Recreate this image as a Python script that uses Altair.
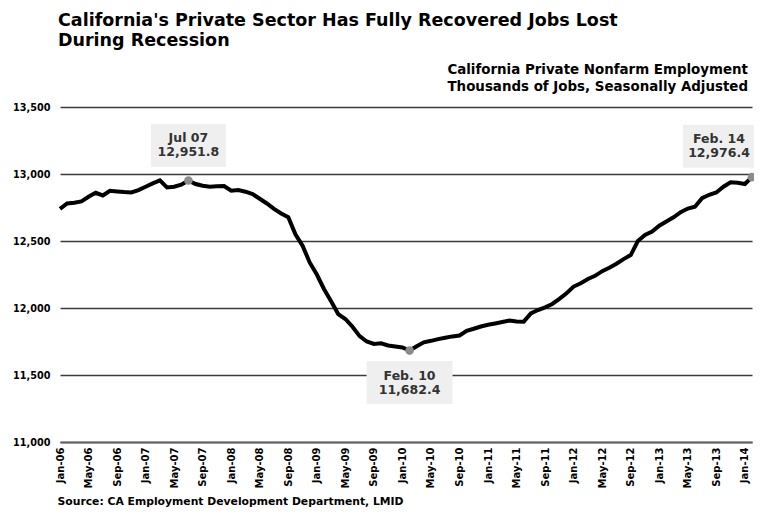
import altair as alt
import pandas as pd

# ---- data -------------------------------------------------------------
start_month = "2006-01-01"
n_months = 98  # Jan-06 .. Feb-14
jobs = [
    12740, 12780, 12785, 12795, 12830, 12860, 12840, 12875, 12870, 12865, 12862, 12880,
    12905, 12930, 12952, 12900, 12905, 12920, 12951.8, 12925, 12912, 12905, 12908, 12910,
    12875, 12880, 12868, 12850, 12815, 12780, 12740, 12705, 12677, 12550, 12465, 12340,
    12250, 12142, 12050, 11955, 11918, 11860, 11790, 11750, 11732, 11737, 11720, 11712,
    11705, 11682.4, 11715, 11744, 11755, 11768, 11778, 11788, 11795, 11830, 11845, 11862,
    11875, 11885, 11895, 11906, 11900, 11898, 11960, 11985, 12005, 12030, 12068, 12110,
    12160, 12185, 12217, 12240, 12275, 12300, 12330, 12365, 12395, 12500, 12545, 12570,
    12614, 12645, 12677, 12715, 12742, 12756, 12820, 12845, 12862, 12905, 12938, 12935,
    12925, 12976.4,
]
ann_months = ["Jul-07", "Feb-10", "Feb-14"]
ann_names = ["Jul 07", "Feb. 10", "Feb. 14"]
ann_values = [12951.8, 11682.4, 12976.4]

title_lines = ["California's Private Sector Has Fully Recovered Jobs Lost", "During Recession"]
subtitle_lines = ["California Private Nonfarm Employment", "Thousands of Jobs, Seasonally Adjusted"]
source_text = "Source: CA Employment Development Department, LMID"
y_ticks = [11000, 11500, 12000, 12500, 13000, 13500]

months = pd.date_range(start_month, periods=n_months, freq="MS").strftime("%b-%y").tolist()
tick_labels = months[::4]  # Jan, May, Sep
df = pd.DataFrame({"month": months, "jobs": jobs})
ann = pd.DataFrame({"month": ann_months, "name": ann_names, "value": ann_values})

FONT = "DejaVu Sans"
W, H = 692, 335

x_scale = alt.Scale(type="point", domain=months, padding=0)
x_enc = alt.X(
    "month:O",
    scale=x_scale,
    axis=alt.Axis(
        values=tick_labels, labelAngle=270, labelFontSize=10,
        labelFontWeight="bold", labelFont=FONT, labelColor="black", labelPadding=5,
        ticks=False, grid=False, domainColor="#666666", domainWidth=2,
        labelOverlap=False,
        title=source_text, titleFont=FONT, titleFontSize=10.8, titleFontWeight="bold",
        titleColor="black", titleAnchor="start", titleAlign="left", titleX=-3,
        titlePadding=8,
    ),
)
y_scale = alt.Scale(domain=[11000, 13500], nice=False, zero=False)
y_enc = alt.Y(
    "jobs:Q",
    scale=y_scale,
    axis=alt.Axis(
        values=y_ticks, format=",d", labelFont=FONT, labelFontSize=9.7,
        labelFontWeight="bold", labelColor="black", labelPadding=10,
        ticks=False, domain=False, grid=True, gridColor="#3a3a3a", gridWidth=1.3,
        title=None,
    ),
)

line = alt.Chart(df).mark_line(color="black", strokeWidth=4).encode(x=x_enc, y=y_enc)

# annotation boxes/labels: (x offset, y offset of box centre, width)
offsets = [(0, -35, 75), (0, 32, 86), (-33, -31, 72)]
layers = [line]
for i, (ox, oy, bw) in enumerate(offsets):
    row = ann.iloc[[i]]
    base = alt.Chart(row).encode(
        x=alt.X("month:O", scale=x_scale), y=alt.Y("value:Q", scale=y_scale)
    )
    layers.append(base.mark_rect(width=bw, height=43, color="#efefef",
                                 xOffset=ox, yOffset=oy))
    layers.append(base.mark_text(font=FONT, fontSize=12.5, fontWeight="bold",
                                 color="#333333", dx=ox, dy=oy - 7,
                                 baseline="middle").encode(text="name:N"))
    layers.append(base.mark_text(font=FONT, fontSize=12.5, fontWeight="bold",
                                 color="#333333", dx=ox, dy=oy + 7,
                                 baseline="middle").encode(text=alt.Text("value:Q", format=",.1f")))

layers.append(alt.Chart(ann).mark_circle(size=75, color="#8c8c8c", opacity=1)
              .encode(x=alt.X("month:O", scale=x_scale), y=alt.Y("value:Q", scale=y_scale)))

one = pd.DataFrame({"k": [0]})


def label(txt, x, y, size, align="left"):
    return alt.Chart(one).mark_text(
        text=txt, font=FONT, fontSize=size, fontWeight="bold", color="black",
        align=align, baseline="alphabetic",
    ).encode(x=alt.value(x), y=alt.value(y))


layers.append(label(title_lines[0], -2, -81, 17.5))
layers.append(label(title_lines[1], -2, -61, 17.5))
layers.append(label(subtitle_lines[0], 688, -33, 13.4, "right"))
layers.append(label(subtitle_lines[1], 688, -16, 13.4, "right"))

chart = alt.layer(*layers).properties(
    width=W, height=H,
    autosize=alt.AutoSizeParams(type="none"),
    padding={"left": 52, "top": 99, "right": 2, "bottom": 66},
    background="white",
).configure_view(stroke=None)

chart.save("out.html", embed_options={"renderer": "svg", "actions": False})
